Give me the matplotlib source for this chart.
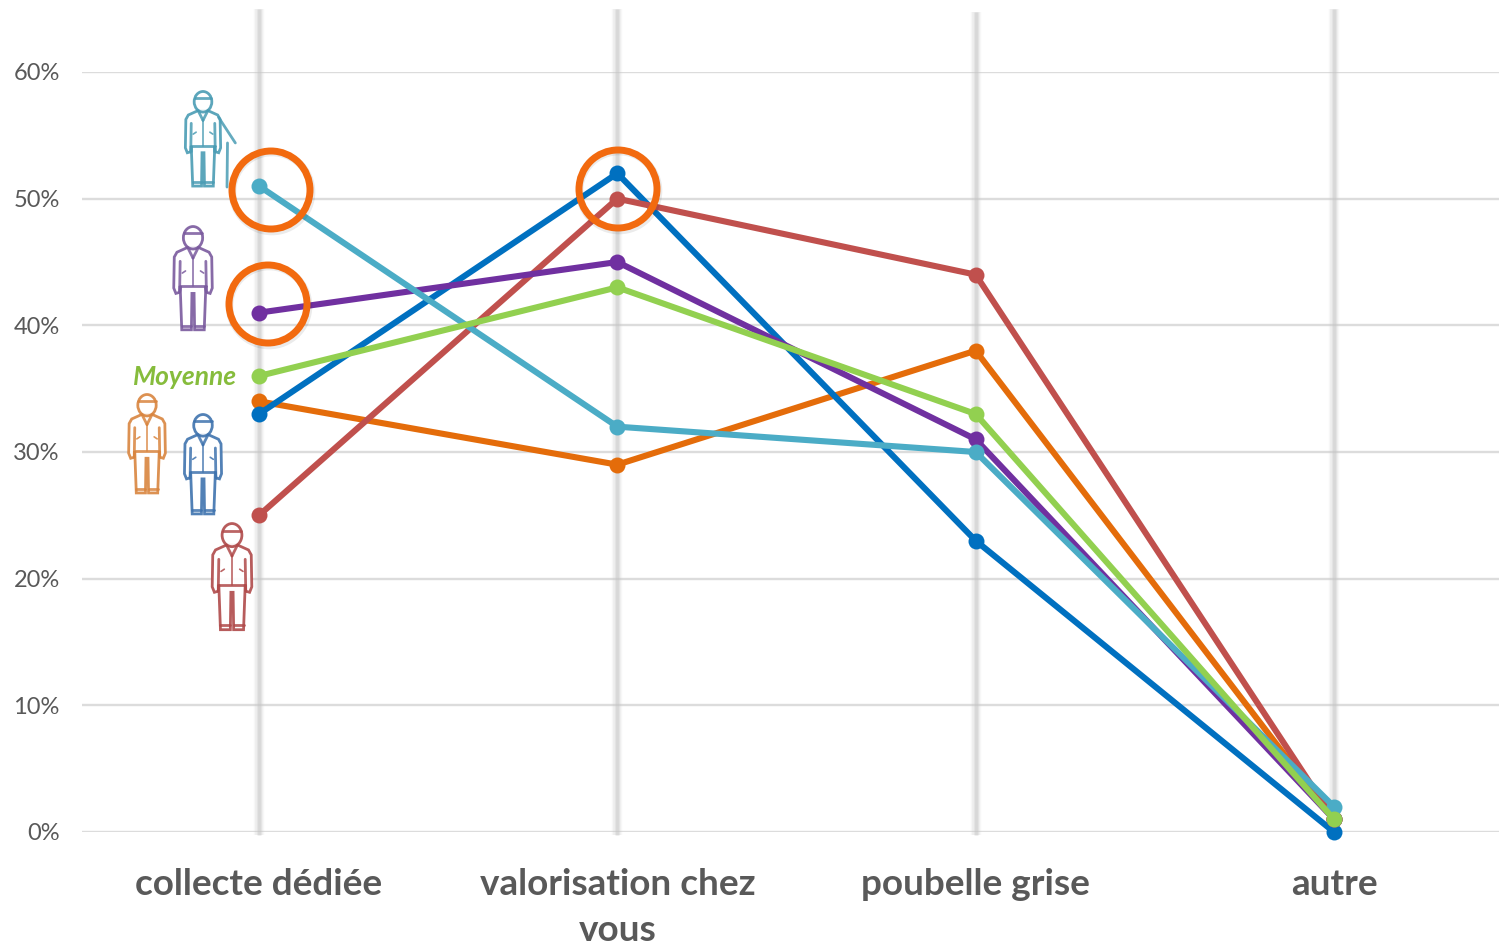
import matplotlib
matplotlib.use("Agg")
import matplotlib.pyplot as plt
from matplotlib.patches import Circle, Ellipse, Polygon

plt.rcParams["font.family"] = ["Lato", "DejaVu Sans"]

W, H = 1499, 949

categories = ["collecte dédiée", "valorisation chez\nvous", "poubelle grise", "autre"]
yticks = [0, 10, 20, 30, 40, 50, 60]

# percentages
orange = [34, 29, 38, 1]
blue = [33, 52, 23, 0]
red = [25, 50, 44, 1]
purple = [41, 45, 31, 1]
teal = [51, 32, 30, 2]
green = [36, 43, 33, 1]

series = [
    (orange, "#E46C0A"),
    (blue, "#0070C0"),
    (red, "#C0504D"),
    (purple, "#7030A0"),
    (teal, "#4BACC6"),
    (green, "#92D050"),
]

GRID = "#DCDCDC"
TEXT = "#595959"

fig = plt.figure(figsize=(W / 100, H / 100), dpi=100, facecolor="white")

# axes in pixels: 0% at y=832, 60% at y=72, categories at x=259 ... 1334
ax = fig.add_axes([82 / W, (H - 832) / H, (W - 82) / W, 760 / H])
ax.set_ylim(0, 60)
ax.set_xlim((82 - 259) / 358.33, (W - 259) / 358.33)
for s in ax.spines.values():
    s.set_visible(False)
ax.grid(axis="y", color=GRID, lw=1.7, zorder=1)
ax.set_axisbelow(True)

ax.set_yticks(yticks)
ax.set_yticklabels([f"{v}%" for v in yticks], fontsize=17, color=TEXT)
ax.set_xticks(range(len(categories)))
ax.set_xticklabels(categories, fontsize=26.6, fontweight="bold", color=TEXT, linespacing=1.46)
ax.tick_params(axis="y", length=0, pad=16)
ax.tick_params(axis="x", length=0, pad=26)

# fuzzy grey vertical bars
bar_tops = [65, 65, 64.7, 65]
for i, top in enumerate(bar_tops):
    for lw, alpha in [(7.5, 0.12), (5.5, 0.18), (3.5, 0.25), (2, 0.3)]:
        ax.vlines(i, -0.25, top, color="#C4C4C4", lw=lw, alpha=alpha,
                  zorder=2, clip_on=False, capstyle="butt")

for k, (vals, col) in enumerate(series):
    ax.plot(range(len(vals)), vals, color=col, lw=4.4, marker="o", ms=11.5,
            mew=0, zorder=5 + k, clip_on=False, solid_capstyle="round")

# overlay in picture pixels for the annotations
ov = fig.add_axes([0, 0, 1, 1], zorder=10)
ov.set_xlim(0, W)
ov.set_ylim(H, 0)
ov.axis("off")
ov.patch.set_alpha(0)

# orange highlight rings
for cx, cy in [(271, 190), (268, 304), (618, 189)]:
    ov.add_patch(Circle((cx + 1, cy + 2), 39.5, fill=False, ec="#000000", lw=5.5, alpha=0.08))
    ov.add_patch(Circle((cx, cy), 39, fill=False, ec="#F26A0F", lw=5))


def person(cx, top, height, col, cane=False):
    # simple outline pictogram, unit coordinates scaled by height
    def P(pts):
        return [(cx + x * height, top + y * height) for x, y in pts]

    def line(pts, lw=2):
        xy = P(pts)
        ov.plot([p[0] for p in xy], [p[1] for p in xy], color=col, lw=lw,
                alpha=0.85, solid_joinstyle="round", solid_capstyle="round")

    right = [(0.05, 0.2), (0.15, 0.245), (0.175, 0.29), (0.18, 0.58), (0.16, 0.63),
             (0.125, 0.62), (0.12, 0.56), (0.105, 0.97), (0.015, 0.97), (0.01, 0.63)]
    outline = [(-x, y) for x, y in reversed(right)] + right
    ov.add_patch(Polygon(P(outline), closed=True, fc="white", ec=col, lw=2, alpha=0.9))
    ov.add_patch(Ellipse((cx, top + 0.11 * height), 0.18 * height, 0.21 * height,
                         fc="white", ec=col, lw=2, alpha=0.9))
    # hair line, arms, jacket hem, collar, shoes
    line([(-0.085, 0.07), (0.085, 0.07)])
    for s in (-1, 1):
        line([(s * 0.12, 0.33), (s * 0.125, 0.62)])
        line([(s * 0.105, 0.93), (s * 0.015, 0.93)])
        line([(s * 0.05, 0.2), (0, 0.3)])
        line([(s * 0.07, 0.42), (s * 0.1, 0.44)], lw=1.2)
    line([(-0.12, 0.56), (0.12, 0.56)])
    line([(0, 0.3), (0, 0.56)], lw=1.2)
    if cane:
        line([(0.16, 0.27), (0.33, 0.53)])
        line([(0.25, 0.53), (0.245, 0.98)])


person(203, 91, 98, "#4A9CB4", cane=True)
person(193, 226, 107, "#7A5A9E")
person(147, 394, 102, "#D9853F")
person(203, 414, 103, "#3F73AE")
person(232, 523, 110, "#B04A4A")

ov.text(237, 377, "Moyenne", ha="right", va="center", fontsize=19,
        fontweight="bold", fontstyle="italic", color="#86BC3C")

fig.savefig("out.png", dpi=100)
